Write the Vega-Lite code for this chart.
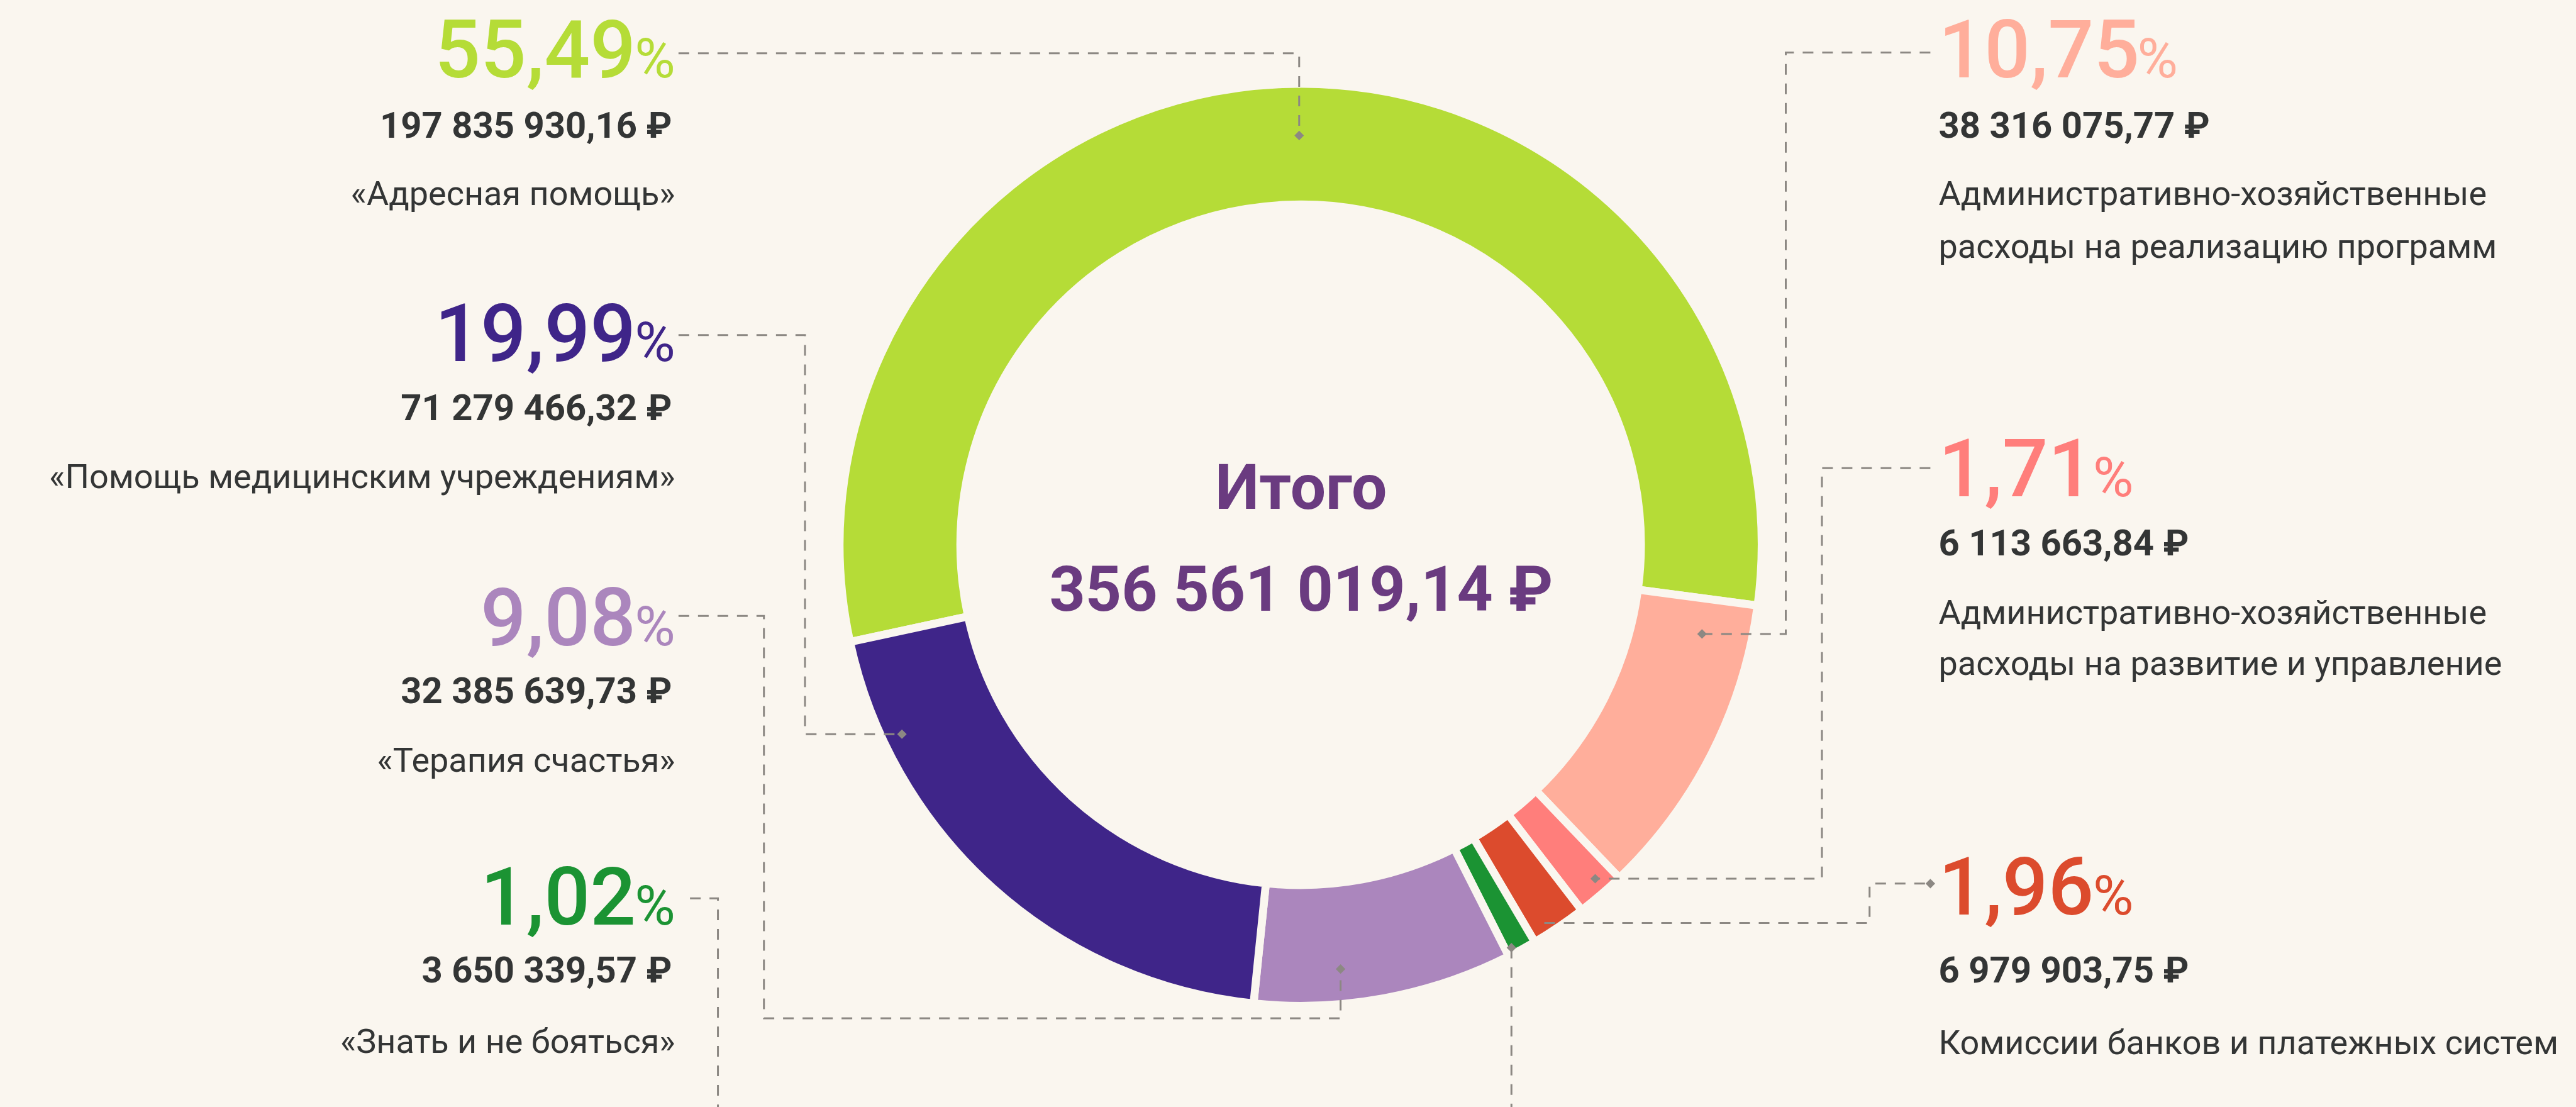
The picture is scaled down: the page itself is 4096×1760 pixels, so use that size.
{
  "$schema": "https://vega.github.io/schema/vega-lite/v6.json",
  "width": 4096,
  "height": 1760,
  "autosize": {"type": "none"},
  "padding": 0,
  "background": "#faf6ef",
  "config": {"view": {"stroke": null}, "font": "Roboto"},
  "datasets": {
    "slices": [
      {"cat": "Адресная помощь", "amount": 197835930.16, "ord": 1},
      {"cat": "АХР на реализацию программ", "amount": 38316075.77, "ord": 2},
      {"cat": "АХР на развитие и управление", "amount": 6113663.84, "ord": 3},
      {"cat": "Комиссии банков и платежных систем", "amount": 6979903.75, "ord": 4},
      {"cat": "Знать и не бояться", "amount": 3650339.57, "ord": 5},
      {"cat": "Терапия счастья", "amount": 32385639.73, "ord": 6},
      {"cat": "Помощь медицинским учреждениям", "amount": 71279466.32, "ord": 7}
    ],
    "texts": [
      {"kind": "pct", "side": "L", "cat": "Адресная помощь", "t": "55,49", "lx": 387, "ly": 47},
      {"kind": "sign", "side": "L", "cat": "Адресная помощь", "t": "%", "lx": 411, "ly": 47},
      {"kind": "amt", "side": "L", "t": "197 835 930,16 ₽", "lx": 409, "ly": 84},
      {"kind": "name", "side": "L", "t": "«Адресная помощь»", "lx": 411, "ly": 125},
      {"kind": "pct", "side": "L", "cat": "Помощь медицинским учреждениям", "t": "19,99", "lx": 387, "ly": 220},
      {"kind": "sign", "side": "L", "cat": "Помощь медицинским учреждениям", "t": "%", "lx": 411, "ly": 220},
      {"kind": "amt", "side": "L", "t": "71 279 466,32 ₽", "lx": 409, "ly": 256},
      {"kind": "name", "side": "L", "t": "«Помощь медицинским учреждениям»", "lx": 411, "ly": 297},
      {"kind": "pct", "side": "L", "cat": "Терапия счастья", "t": "9,08", "lx": 387, "ly": 393},
      {"kind": "sign", "side": "L", "cat": "Терапия счастья", "t": "%", "lx": 411, "ly": 393},
      {"kind": "amt", "side": "L", "t": "32 385 639,73 ₽", "lx": 409, "ly": 428},
      {"kind": "name", "side": "L", "t": "«Терапия счастья»", "lx": 411, "ly": 470},
      {"kind": "pct", "side": "L", "cat": "Знать и не бояться", "t": "1,02", "lx": 387, "ly": 563},
      {"kind": "sign", "side": "L", "cat": "Знать и не бояться", "t": "%", "lx": 411, "ly": 563},
      {"kind": "amt", "side": "L", "t": "3 650 339,57 ₽", "lx": 409, "ly": 598},
      {"kind": "name", "side": "L", "t": "«Знать и не бояться»", "lx": 411, "ly": 641},
      {"kind": "pct", "side": "R", "cat": "АХР на реализацию программ", "t": "10,75", "lx": 1180, "ly": 47},
      {"kind": "sign", "side": "R", "cat": "АХР на реализацию программ", "t": "%", "lx": 1301, "ly": 47},
      {"kind": "amt", "side": "R", "t": "38 316 075,77 ₽", "lx": 1180, "ly": 84},
      {"kind": "name", "side": "R", "t": "Административно-хозяйственные", "lx": 1180, "ly": 125},
      {"kind": "name", "side": "R", "t": "расходы на реализацию программ", "lx": 1180, "ly": 157},
      {"kind": "pct", "side": "R", "cat": "АХР на развитие и управление", "t": "1,71", "lx": 1180, "ly": 302},
      {"kind": "sign", "side": "R", "cat": "АХР на развитие и управление", "t": "%", "lx": 1274, "ly": 302},
      {"kind": "amt", "side": "R", "t": "6 113 663,84 ₽", "lx": 1180, "ly": 338},
      {"kind": "name", "side": "R", "t": "Административно-хозяйственные", "lx": 1180, "ly": 380},
      {"kind": "name", "side": "R", "t": "расходы на развитие и управление", "lx": 1180, "ly": 411},
      {"kind": "pct", "side": "R", "cat": "Комиссии банков и платежных систем", "t": "1,96", "lx": 1180, "ly": 557},
      {"kind": "sign", "side": "R", "cat": "Комиссии банков и платежных систем", "t": "%", "lx": 1274, "ly": 557},
      {"kind": "amt", "side": "R", "t": "6 979 903,75 ₽", "lx": 1180, "ly": 598},
      {"kind": "name", "side": "R", "t": "Комиссии банков и платежных систем", "lx": 1180, "ly": 642},
      {"kind": "total", "side": "C", "t": "Итого", "lx": 792, "ly": 310},
      {"kind": "total", "side": "C", "t": "356 561 019,14 ₽", "lx": 792, "ly": 372}
    ],
    "leaders": [
      {"path": "p1", "seq": 1, "lx": 413, "ly": 32.5},
      {"path": "p1", "seq": 2, "lx": 790.8, "ly": 32.5},
      {"path": "p1", "seq": 3, "lx": 790.8, "ly": 82.5},
      {"path": "p2", "seq": 1, "lx": 413, "ly": 204},
      {"path": "p2", "seq": 2, "lx": 490, "ly": 204},
      {"path": "p2", "seq": 3, "lx": 490, "ly": 447},
      {"path": "p2", "seq": 4, "lx": 549, "ly": 447},
      {"path": "p3", "seq": 1, "lx": 413, "ly": 375},
      {"path": "p3", "seq": 2, "lx": 465, "ly": 375},
      {"path": "p3", "seq": 3, "lx": 465, "ly": 620},
      {"path": "p3", "seq": 4, "lx": 816, "ly": 620},
      {"path": "p3", "seq": 5, "lx": 816, "ly": 590},
      {"path": "p4", "seq": 1, "lx": 420, "ly": 547},
      {"path": "p4", "seq": 2, "lx": 437, "ly": 547},
      {"path": "p4", "seq": 3, "lx": 437, "ly": 674},
      {"path": "p5", "seq": 1, "lx": 920, "ly": 577},
      {"path": "p5", "seq": 2, "lx": 920, "ly": 674},
      {"path": "p6", "seq": 1, "lx": 1175, "ly": 32},
      {"path": "p6", "seq": 2, "lx": 1087, "ly": 32},
      {"path": "p6", "seq": 3, "lx": 1087, "ly": 386},
      {"path": "p6", "seq": 4, "lx": 1036, "ly": 386},
      {"path": "p7", "seq": 1, "lx": 1175, "ly": 285},
      {"path": "p7", "seq": 2, "lx": 1109, "ly": 285},
      {"path": "p7", "seq": 3, "lx": 1109, "ly": 535},
      {"path": "p7", "seq": 4, "lx": 971, "ly": 535},
      {"path": "p8", "seq": 1, "lx": 940, "ly": 562},
      {"path": "p8", "seq": 2, "lx": 1138, "ly": 562},
      {"path": "p8", "seq": 3, "lx": 1138, "ly": 538},
      {"path": "p8", "seq": 4, "lx": 1175, "ly": 538}
    ],
    "dots": [
      {"lx": 790.8, "ly": 82.5},
      {"lx": 549, "ly": 447},
      {"lx": 816, "ly": 590},
      {"lx": 920, "ly": 577},
      {"lx": 1036, "ly": 386},
      {"lx": 971, "ly": 535},
      {"lx": 1175, "ly": 538}
    ]
  },
  "layer": [
    {
      "data": {"name": "slices"},
      "mark": {"type": "arc", "outerRadius": 733, "innerRadius": 541, "stroke": "#faf6ef", "strokeWidth": 12.6},
      "encoding": {
        "theta": {"field": "amount", "type": "quantitative", "stack": true, "scale": {"range": [4.5, 10.7832]}},
        "order": {"field": "ord", "type": "quantitative"},
        "color": {
          "field": "cat", "type": "nominal", "legend": null,
          "scale": {
            "domain": ["Адресная помощь", "АХР на реализацию программ", "АХР на развитие и управление", "Комиссии банков и платежных систем", "Знать и не бояться", "Терапия счастья", "Помощь медицинским учреждениям"],
            "range": ["#b5dc37", "#ffae9b", "#ff7e7b", "#dc4b2d", "#1b9333", "#ab86bd", "#3f2589"]
          }
        },
        "x": {"datum": 791.7, "type": "quantitative", "scale": {"domain": [0, 1568], "nice": false, "zero": false}, "axis": null},
        "y": {"datum": 331.7, "type": "quantitative", "scale": {"domain": [0, 674], "nice": false, "zero": false, "reverse": true}, "axis": null}
      }
    },
    {
      "data": {"name": "leaders"},
      "mark": {"type": "line", "strokeDash": [17, 14], "strokeWidth": 3, "color": "#8c8883"},
      "encoding": {
        "x": {"field": "lx", "type": "quantitative", "scale": {"domain": [0, 1568], "nice": false, "zero": false}, "axis": null},
        "y": {"field": "ly", "type": "quantitative", "scale": {"domain": [0, 674], "nice": false, "zero": false, "reverse": true}, "axis": null},
        "detail": {"field": "path", "type": "nominal"},
        "order": {"field": "seq", "type": "quantitative"}
      }
    },
    {
      "data": {"name": "dots"},
      "mark": {"type": "point", "shape": "diamond", "filled": true, "size": 230, "color": "#8c8883", "opacity": 1, "strokeWidth": 0},
      "encoding": {
        "x": {"field": "lx", "type": "quantitative", "axis": null},
        "y": {"field": "ly", "type": "quantitative", "axis": null}
      }
    },
    {
      "data": {"name": "texts"},
      "transform": [{"filter": "datum.kind === 'pct' && datum.side === 'L'"}],
      "mark": {"type": "text", "align": "right", "baseline": "alphabetic", "font": "Roboto", "fontWeight": 500, "fontSize": 128},
      "encoding": {
        "x": {"field": "lx", "type": "quantitative", "axis": null},
        "y": {"field": "ly", "type": "quantitative", "axis": null},
        "text": {"field": "t"},
        "color": {"field": "cat", "type": "nominal", "legend": null}
      }
    },
    {
      "data": {"name": "texts"},
      "transform": [{"filter": "datum.kind === 'pct' && datum.side === 'R'"}],
      "mark": {"type": "text", "align": "left", "baseline": "alphabetic", "font": "Roboto", "fontWeight": 500, "fontSize": 128},
      "encoding": {
        "x": {"field": "lx", "type": "quantitative", "axis": null},
        "y": {"field": "ly", "type": "quantitative", "axis": null},
        "text": {"field": "t"},
        "color": {"field": "cat", "type": "nominal", "legend": null}
      }
    },
    {
      "data": {"name": "texts"},
      "transform": [{"filter": "datum.kind === 'sign' && datum.side === 'L'"}],
      "mark": {"type": "text", "align": "right", "baseline": "alphabetic", "font": "Roboto", "fontWeight": 400, "fontSize": 88},
      "encoding": {
        "x": {"field": "lx", "type": "quantitative", "axis": null},
        "y": {"field": "ly", "type": "quantitative", "axis": null},
        "text": {"field": "t"},
        "color": {"field": "cat", "type": "nominal", "legend": null}
      }
    },
    {
      "data": {"name": "texts"},
      "transform": [{"filter": "datum.kind === 'sign' && datum.side === 'R'"}],
      "mark": {"type": "text", "align": "left", "baseline": "alphabetic", "font": "Roboto", "fontWeight": 400, "fontSize": 88},
      "encoding": {
        "x": {"field": "lx", "type": "quantitative", "axis": null},
        "y": {"field": "ly", "type": "quantitative", "axis": null},
        "text": {"field": "t"},
        "color": {"field": "cat", "type": "nominal", "legend": null}
      }
    },
    {
      "data": {"name": "texts"},
      "transform": [{"filter": "datum.kind === 'amt' && datum.side === 'L'"}],
      "mark": {"type": "text", "align": "right", "baseline": "alphabetic", "font": "Roboto", "fontWeight": "bold", "fontSize": 58, "color": "#333535"},
      "encoding": {
        "x": {"field": "lx", "type": "quantitative", "axis": null},
        "y": {"field": "ly", "type": "quantitative", "axis": null},
        "text": {"field": "t"}
      }
    },
    {
      "data": {"name": "texts"},
      "transform": [{"filter": "datum.kind === 'amt' && datum.side === 'R'"}],
      "mark": {"type": "text", "align": "left", "baseline": "alphabetic", "font": "Roboto", "fontWeight": "bold", "fontSize": 58, "color": "#333535"},
      "encoding": {
        "x": {"field": "lx", "type": "quantitative", "axis": null},
        "y": {"field": "ly", "type": "quantitative", "axis": null},
        "text": {"field": "t"}
      }
    },
    {
      "data": {"name": "texts"},
      "transform": [{"filter": "datum.kind === 'name' && datum.side === 'L'"}],
      "mark": {"type": "text", "align": "right", "baseline": "alphabetic", "font": "Roboto", "fontWeight": 400, "fontSize": 54, "color": "#333535"},
      "encoding": {
        "x": {"field": "lx", "type": "quantitative", "axis": null},
        "y": {"field": "ly", "type": "quantitative", "axis": null},
        "text": {"field": "t"}
      }
    },
    {
      "data": {"name": "texts"},
      "transform": [{"filter": "datum.kind === 'name' && datum.side === 'R'"}],
      "mark": {"type": "text", "align": "left", "baseline": "alphabetic", "font": "Roboto", "fontWeight": 400, "fontSize": 54, "color": "#333535"},
      "encoding": {
        "x": {"field": "lx", "type": "quantitative", "axis": null},
        "y": {"field": "ly", "type": "quantitative", "axis": null},
        "text": {"field": "t"}
      }
    },
    {
      "data": {"name": "texts"},
      "transform": [{"filter": "datum.kind === 'total'"}],
      "mark": {"type": "text", "align": "center", "baseline": "alphabetic", "font": "Roboto", "fontWeight": "bold", "fontSize": 100, "color": "#6a3b80"},
      "encoding": {
        "x": {"field": "lx", "type": "quantitative", "axis": null},
        "y": {"field": "ly", "type": "quantitative", "axis": null},
        "text": {"field": "t"}
      }
    }
  ]
}
